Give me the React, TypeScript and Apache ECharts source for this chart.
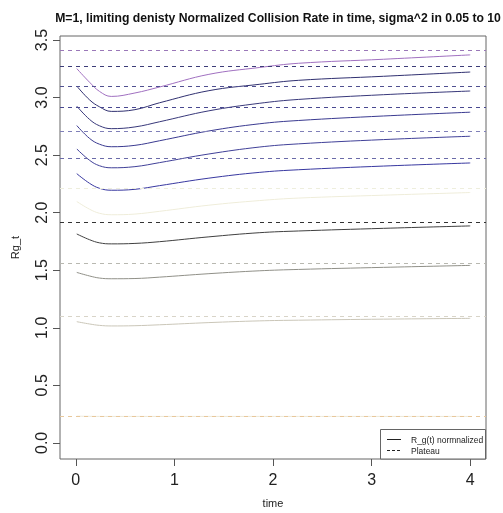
import React, { useEffect, useRef } from "react";
import * as echarts from "echarts";

const title = "M=1, limiting denisty Normalized Collision Rate in time, sigma^2 in 0.05 to 10";
const times = [0.01, 0.14, 0.24, 0.36, 0.6, 0.85, 1.35, 1.86, 2.26, 3.12, 4.0];
const xTicks = [0, 1, 2, 3, 4];
const yTicks = [0, 0.5, 1, 1.5, 2, 2.5, 3, 3.5];

const curve1 = [3.252, 3.133, 3.054, 3.010, 3.040, 3.092, 3.202, 3.261, 3.298, 3.333, 3.371];
const curve2 = [3.100, 2.980, 2.920, 2.880, 2.895, 2.955, 3.060, 3.115, 3.150, 3.185, 3.222];
const curve3 = [2.926, 2.810, 2.755, 2.730, 2.745, 2.790, 2.885, 2.950, 2.984, 3.025, 3.057];
const curve4 = [2.757, 2.645, 2.595, 2.573, 2.585, 2.625, 2.710, 2.772, 2.801, 2.840, 2.873];
const curve5 = [2.554, 2.455, 2.408, 2.390, 2.400, 2.435, 2.510, 2.570, 2.598, 2.635, 2.664];
const curve6 = [2.339, 2.255, 2.212, 2.195, 2.203, 2.235, 2.300, 2.350, 2.373, 2.405, 2.432];
const curve7 = [2.097, 2.030, 1.995, 1.982, 1.988, 2.012, 2.065, 2.105, 2.127, 2.152, 2.175];
const curve8 = [1.815, 1.765, 1.738, 1.729, 1.733, 1.748, 1.790, 1.826, 1.841, 1.864, 1.885];
const curve9 = [1.481, 1.450, 1.432, 1.426, 1.428, 1.440, 1.470, 1.495, 1.507, 1.525, 1.542];
const curve10 = [1.053, 1.033, 1.021, 1.016, 1.018, 1.026, 1.045, 1.060, 1.066, 1.075, 1.082];
const curve11 = [0.232, 0.231, 0.230, 0.230, 0.230, 0.230, 0.230, 0.230, 0.230, 0.230, 0.230];

const curves = [curve1, curve2, curve3, curve4, curve5, curve6, curve7, curve8, curve9, curve10, curve11];
const plateaus = [3.406, 3.270, 3.104, 2.921, 2.708, 2.472, 2.214, 1.917, 1.562, 1.097, 0.230];

const curveColors = ["#a070c0", "#303070", "#38387a", "#3a3a90", "#404098", "#3838a0", "#efedda", "#404040", "#909088", "#cac6b8", "#ece8d8"];
const plateauColors = ["#9a78b8", "#3c3c78", "#505090", "#484890", "#8080b8", "#6a6aa8", "#eeeedd", "#333333", "#b8b8b0", "#d8d4c8", "#e8c89c"];

export default function App() {
  const ref = useRef<HTMLDivElement>(null);
  useEffect(() => {
    if (!ref.current) return;
    const chart = echarts.init(ref.current, undefined, { renderer: "svg" });
    const font = "'Liberation Sans', Arial, sans-serif";
    const series = curves.map((c, i) => ({
      type: "line",
      data: c.map((v, j) => [times[j], v]),
      smooth: 0.4,
      showSymbol: false,
      symbol: "none",
      lineStyle: { color: curveColors[i], width: 1 },
      itemStyle: { color: curveColors[i] },
      markLine: {
        silent: true,
        symbol: "none",
        label: { show: false },
        lineStyle: { color: plateauColors[i], type: [4, 4], width: 1 },
        data: [{ yAxis: plateaus[i] }],
      },
    }));
    chart.setOption({
      animation: false,
      title: {
        text: title,
        left: 273,
        textAlign: "center",
        top: 7,
        textStyle: { fontFamily: font, fontSize: 12.2, fontWeight: "bold", color: "#111" },
      },
      grid: {
        left: 60,
        right: 17,
        top: 36,
        bottom: 54,
        show: true,
        borderColor: "#666",
        borderWidth: 1,
        backgroundColor: "#fff",
      },
      xAxis: {
        type: "value",
        min: -0.16,
        max: 4.16,
        name: "time",
        nameLocation: "middle",
        nameGap: 38,
        nameTextStyle: { fontFamily: font, fontSize: 11, color: "#222" },
        axisLine: { show: false, onZero: false },
        splitLine: { show: false },
        axisTick: { show: true, length: 7, customValues: xTicks, lineStyle: { color: "#555" } },
        axisLabel: {
          customValues: xTicks,
          fontFamily: font,
          fontSize: 16,
          color: "#222",
          margin: 12,
          formatter: (v: number) => String(v),
        },
      },
      yAxis: {
        type: "value",
        min: -0.14,
        max: 3.535,
        name: "Rg_t",
        nameLocation: "middle",
        nameGap: 40,
        nameRotate: 90,
        nameTextStyle: { fontFamily: font, fontSize: 11, color: "#222" },
        axisLine: { show: false, onZero: false },
        splitLine: { show: false },
        axisTick: { show: true, length: 7, customValues: yTicks, lineStyle: { color: "#555" } },
        axisLabel: {
          customValues: yTicks,
          rotate: 90,
          fontFamily: font,
          fontSize: 16,
          color: "#222",
          margin: 11,
          formatter: (v: number) => v.toFixed(1),
        },
      },
      graphic: [
        {
          type: "rect",
          z: 100,
          shape: { x: 380.5, y: 429.5, width: 105, height: 29.5 },
          style: { fill: "#fff", stroke: "#666", lineWidth: 1 },
        },
        {
          type: "line",
          z: 101,
          shape: { x1: 387, y1: 439.5, x2: 401, y2: 439.5 },
          style: { stroke: "#222", lineWidth: 1 },
        },
        {
          type: "line",
          z: 101,
          shape: { x1: 387, y1: 450.5, x2: 401, y2: 450.5 },
          style: { stroke: "#222", lineWidth: 1, lineDash: [3, 2] },
        },
        {
          type: "text",
          z: 101,
          x: 411,
          y: 439.5,
          style: { text: "R_g(t) normnalized", fontFamily: font, fontSize: 8.5, fill: "#222", verticalAlign: "middle" },
        },
        {
          type: "text",
          z: 101,
          x: 411,
          y: 450.5,
          style: { text: "Plateau", fontFamily: font, fontSize: 8.5, fill: "#222", verticalAlign: "middle" },
        },
      ],
      series,
    });
    return () => chart.dispose();
  }, []);
  return <div ref={ref} style={{ width: 503, height: 513, position: "fixed", left: 0, top: 0 }} />;
}
